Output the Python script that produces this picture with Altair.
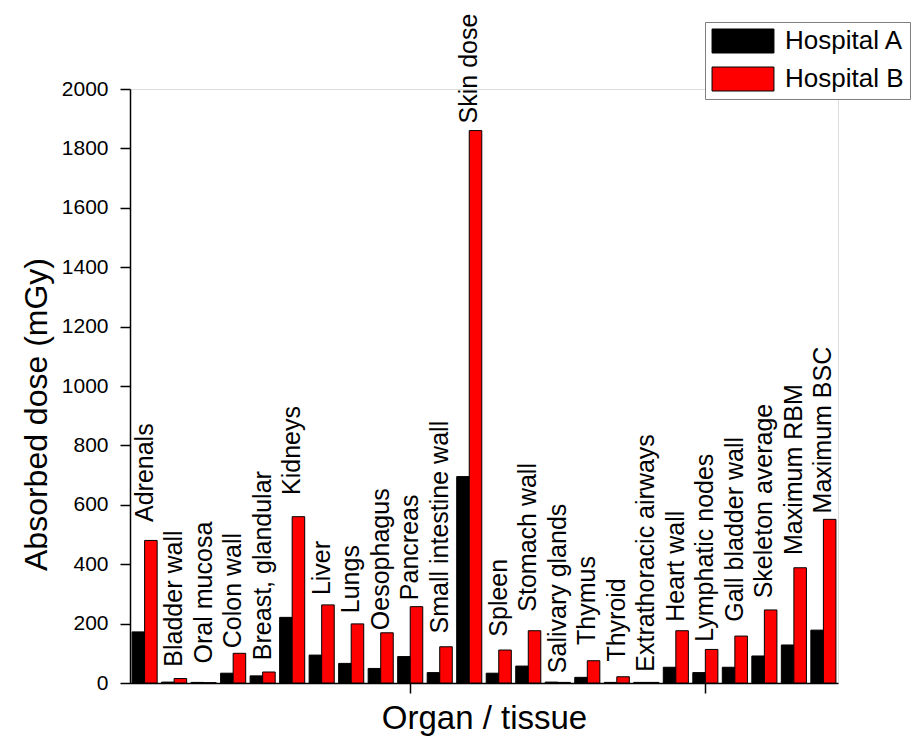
import altair as alt
import pandas as pd

organs = [
    "Adrenals", "Bladder wall", "Oral mucosa", "Colon wall", "Breast, glandular",
    "Kidneys", "Liver", "Lungs", "Oesophagus", "Pancreas", "Small intestine wall",
    "Skin dose", "Spleen", "Stomach wall", "Salivary glands", "Thymus", "Thyroid",
    "Extrathoracic airways", "Heart wall", "Lymphatic nodes", "Gall bladder wall",
    "Skeleton average", "Maximum RBM", "Maximum BSC",
]
hospital_a = [172, 3, 2, 33, 24, 221, 94, 66, 49, 89, 35, 695, 33, 57, 3, 19, 2, 2,
              53, 35, 53, 91, 128, 178]
hospital_b = [480, 15, 1, 100, 37, 560, 263, 199, 169, 257, 122, 1860, 111, 176, 2, 75,
              21, 2, 176, 113, 158, 246, 388, 551]
# dose level (mGy) at which each rotated organ label begins
label_at = [542, 55, 66, 117, 77, 633, 296, 235, 178, 279, 167, 1884, 156, 240, 33, 128,
            72, 38, 206, 139, 206, 285, 431, 571]
series = ["Hospital A", "Hospital B"]
colors = ["#000000", "#ff0000"]
y_ticks = list(range(0, 2001, 100))

rows = []
for i, o in enumerate(organs):
    rows.append({"organ": o, "hospital": series[0], "dose": hospital_a[i]})
    rows.append({"organ": o, "hospital": series[1], "dose": hospital_b[i]})
bars_df = pd.DataFrame(rows)
labels_df = pd.DataFrame({"organ": organs, "label_at": label_at})

FONT = "Liberation Sans"

x_axis = alt.Axis(
    values=[organs[9], organs[19]], labels=False, title="Organ / tissue",
    titleFontSize=33, titleFont=FONT, titleFontWeight="normal", titleColor="black",
    titleY=45, titleBaseline="alphabetic",
    tickSize=10, tickColor="black", tickWidth=1.5,
    domainColor="black", domainWidth=1.5, grid=False,
)
y_axis = alt.Axis(
    values=y_ticks, format="d",
    labelExpr="datum.value % 200 === 0 ? datum.label : ''",
    labelOverlap=False, labelFontSize=21, labelFont=FONT, labelColor="black",
    labelPadding=12,
    tickSize={"condition": {"test": "datum.value % 200 === 0", "value": 10}, "value": 5},
    tickColor="black", tickWidth=1.5, domainColor="black", domainWidth=1.5, grid=False,
    title="Absorbed dose (mGy)", titleFontSize=32, titleFont=FONT,
    titleFontWeight="normal", titleColor="black", titleAngle=270,
    titleAlign="center", titleBaseline="alphabetic", titleX=-84, titleY=325,
)

bars = alt.Chart(bars_df).mark_bar(stroke="black", strokeWidth=1, opacity=1).encode(
    x=alt.X("organ:N", sort=organs,
            scale=alt.Scale(paddingInner=0.15, paddingOuter=0.07), axis=x_axis),
    xOffset=alt.XOffset("hospital:N", sort=series,
                        scale=alt.Scale(paddingInner=0, paddingOuter=0)),
    y=alt.Y("dose:Q", scale=alt.Scale(domain=[0, 2000], nice=False), axis=y_axis),
    color=alt.Color(
        "hospital:N", sort=series,
        scale=alt.Scale(domain=series, range=colors),
        legend=alt.Legend(
            title=None, orient="none", legendX=575, legendY=-67,
            symbolType="M-2.58,-1H2.58V1H-2.58Z", symbolSize=576, symbolOffset=19,
            symbolStrokeColor="black", symbolStrokeWidth=1, symbolOpacity=1,
            labelFontSize=26, labelFont=FONT, labelColor="black", labelOffset=29,
            strokeColor="#808080", fillColor="white", padding=6, rowPadding=10,
        ),
    ),
)

labels = alt.Chart(labels_df).mark_text(
    angle=270, align="left", baseline="middle", fontSize=25, font=FONT, color="black"
).encode(
    x=alt.X("organ:N", sort=organs),
    y=alt.Y("label_at:Q"),
    text="organ:N",
)

chart = alt.layer(bars, labels).properties(
    width=708, height=594,
    padding={"left": 122, "top": 81, "right": 75, "bottom": 53},
    autosize=alt.AutoSizeParams(type="none"),
).configure_view(stroke=None).configure(background="white")

chart.save("out.html", embed_options={"renderer": "svg", "actions": False})
